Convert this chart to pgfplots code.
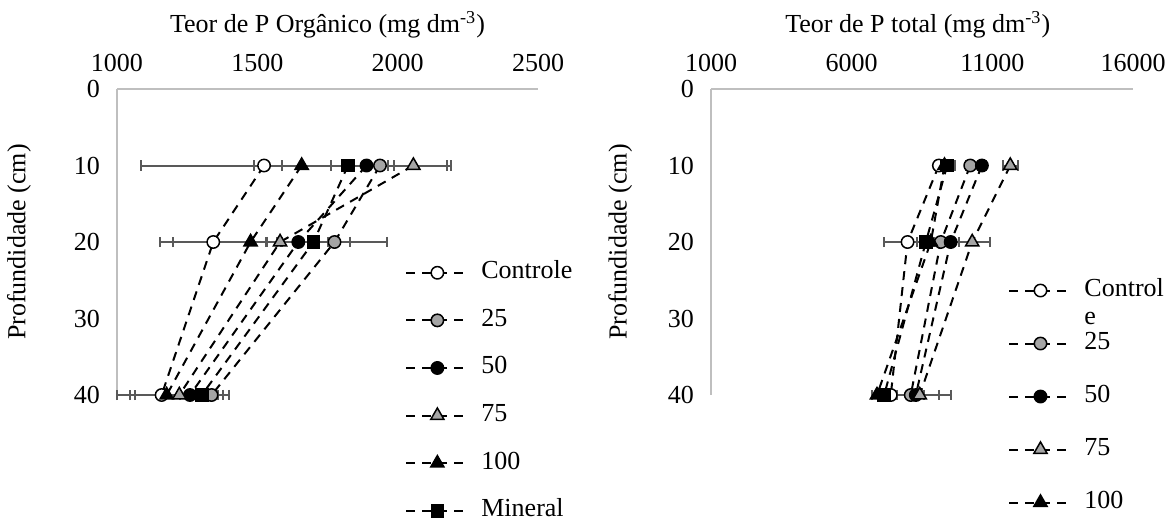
\documentclass[border=0pt]{standalone}
\usepackage{fontspec}
\setmainfont{Liberation Serif}
\usepackage{pgfplots}
\pgfplotsset{compat=1.18}
\usepackage{pgfplotstable}

\definecolor{axgray}{HTML}{BFBFBF}
\definecolor{ebgray}{HTML}{595959}
\definecolor{mgray}{HTML}{A5A5A5}

% Left panel: organic P
\pgfplotstableread{
x y e
1524 10 440
1343 20 190
1159 40 160
}\oC
\pgfplotstableread{
x y e
1937 10 50
1775 20 187
1337 40 40
}\oA
\pgfplotstableread{
x y e
1889 10 300
1646 20 60
1260 40 100
}\oB
\pgfplotstableread{
x y e
2056 10 120
1581 20 50
1222 40 177
}\oD
\pgfplotstableread{
x y e
1658 10 170
1476 20 276
1177 40 113
}\oE
\pgfplotstableread{
x y e
1823 10 60
1700 20 130
1302 40 76
}\oM

% Right panel: total P
\pgfplotstableread{
x y e
9100 10 150
7986 20 830
7390 40 225
}\tC
\pgfplotstableread{
x y e
10215 10 150
9167 20 300
8100 40 1000
}\tA
\pgfplotstableread{
x y e
10630 10 150
9520 20 300
8280 40 300
}\tB
\pgfplotstableread{
x y e
11637 10 265
10285 20 645
8420 40 1095
}\tD
\pgfplotstableread{
x y e
9300 10 200
8813 20 300
6900 40 170
}\tE
\pgfplotstableread{
x y e
9394 10 266
8637 20 300
7155 40 200
}\tM

\newcommand{\fs}{\fontsize{13}{15.6}\selectfont}

\pgfplotsset{
  common/.style={
    scale only axis,
    height=153pt,
    axis x line*=top,
    axis y line*=left,
    axis line style={axgray, line width=1pt, -},
    y dir=reverse,
    ymin=0, ymax=40,
    ytick={0,10,20,30,40},
    major tick length=0pt,
    tick style={draw=none},
    clip=false,
    tick label style={font=\fs},
    label style={font=\fs},
    /pgf/number format/assume math mode=true,
    /pgf/number format/1000 sep={},
    scaled x ticks=false,
    xticklabel style={yshift=4.9pt},
    yticklabel style={xshift=-5pt},
    ylabel={Profundidade (cm)},
    legend cell align=left,
    legend image code/.code={
      \draw[mark repeat=2,mark phase=2,#1] plot coordinates {(0pt,0pt) (15.5pt,0pt) (31pt,0pt)};
    },
  },
  ser/.style={
    black, line width=1pt, dash pattern=on 4.5pt off 3.5pt,
    /pgfplots/error bars/x dir=both,
    /pgfplots/error bars/x explicit,
    /pgfplots/error bars/error mark=|,
    /pgfplots/error bars/error bar style={solid, line width=1pt, ebgray},
    /pgfplots/error bars/error mark options={solid, line width=1pt, ebgray, mark size=2.6pt},
  },
}

\begin{document}
\begin{tikzpicture}
\path[use as bounding box] (0,0) rectangle (586.5pt,263.5pt);

\begin{axis}[common,
  at={(58.5pt,66pt)}, anchor=south west,
  width=210.5pt,
  xmin=1000, xmax=2500, xtick={1000,1500,2000,2500},
  xlabel={Teor de P Orgânico (mg dm\textsuperscript{-3})},
  xlabel style={at={(axis description cs:0.5,1.209)}, anchor=center},
  ylabel style={at={(axis description cs:-0.233,0.5)}, anchor=center},
  legend style={font=\fs, draw=none, fill=none, inner sep=0pt,
    at={(axis description cs:0.684,0.44)}, anchor=north west,
    row sep=11.8pt,
    nodes={inner sep=0pt, text height=9pt, text depth=3pt},
    /tikz/every odd column/.append style={column sep=6pt}},
]
\addplot[ser, mark=*, mark size=3.1pt, mark options={solid, draw=black, fill=white, line width=0.75pt}] table[x=x,y=y,x error=e] {\oC};
\addlegendentry{Controle}
\addplot[ser, mark=*, mark size=3.1pt, mark options={solid, draw=black, fill=mgray, line width=0.75pt}] table[x=x,y=y,x error=e] {\oA};
\addlegendentry{25}
\addplot[ser, mark=*, mark size=3.1pt, mark options={solid, draw=black, fill=black, line width=0.75pt}] table[x=x,y=y,x error=e] {\oB};
\addlegendentry{50}
\addplot[ser, mark=triangle*, mark size=3.8pt, mark options={solid, draw=black, fill=mgray, line width=0.75pt}] table[x=x,y=y,x error=e] {\oD};
\addlegendentry{75}
\addplot[ser, mark=triangle*, mark size=3.8pt, mark options={solid, draw=black, fill=black, line width=0.75pt}] table[x=x,y=y,x error=e] {\oE};
\addlegendentry{100}
\addplot[ser, mark=square*, mark size=3pt, mark options={solid, draw=black, fill=black, line width=0.75pt}] table[x=x,y=y,x error=e] {\oM};
\addlegendentry{Mineral}
\end{axis}

\begin{axis}[common,
  at={(355.5pt,66pt)}, anchor=south west,
  width=211pt,
  xmin=1000, xmax=16000, xtick={1000,6000,11000,16000},
  xlabel={Teor de P total (mg dm\textsuperscript{-3})},
  xlabel style={at={(axis description cs:0.49,1.209)}, anchor=center},
  ylabel style={at={(axis description cs:-0.215,0.5)}, anchor=center},
  legend style={font=\fs, draw=none, fill=none, inner sep=0pt,
    at={(axis description cs:0.704,0.382)}, anchor=north west,
    row sep=14.5pt,
    nodes={inner sep=0pt, text height=9pt, text depth=3pt},
    /tikz/every odd column/.append style={column sep=6pt}},
]
\addplot[ser, mark=*, mark size=3.1pt, mark options={solid, draw=black, fill=white, line width=0.75pt}] table[x=x,y=y,x error=e] {\tC};
\addlegendentry{\smash{\fontsize{13}{14.2}\selectfont\begin{tabular}[t]{@{}l@{}}Control\\e\end{tabular}}}
\addplot[ser, mark=*, mark size=3.1pt, mark options={solid, draw=black, fill=mgray, line width=0.75pt}] table[x=x,y=y,x error=e] {\tA};
\addlegendentry{25}
\addplot[ser, mark=*, mark size=3.1pt, mark options={solid, draw=black, fill=black, line width=0.75pt}] table[x=x,y=y,x error=e] {\tB};
\addlegendentry{50}
\addplot[ser, mark=triangle*, mark size=3.8pt, mark options={solid, draw=black, fill=mgray, line width=0.75pt}] table[x=x,y=y,x error=e] {\tD};
\addlegendentry{75}
\addplot[ser, mark=triangle*, mark size=3.8pt, mark options={solid, draw=black, fill=black, line width=0.75pt}] table[x=x,y=y,x error=e] {\tE};
\addlegendentry{100}
\addplot[ser, mark=square*, mark size=3pt, mark options={solid, draw=black, fill=black, line width=0.75pt}] table[x=x,y=y,x error=e] {\tM};
\end{axis}
\end{tikzpicture}
\end{document}
